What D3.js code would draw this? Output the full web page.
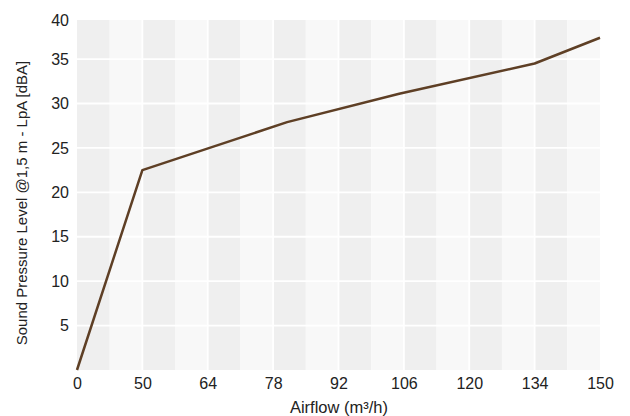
<!DOCTYPE html>
<html><head><meta charset="utf-8">
<script src="https://cdn.jsdelivr.net/npm/d3@7"></script>
<style>body{margin:0;background:#fff}svg{display:block}text{font-family:"Liberation Sans",Arial,sans-serif;fill:#222}</style>
</head><body><svg id="c" width="630" height="416"></svg>
<script>
const xTicks = [0, 50, 64, 78, 92, 106, 120, 134, 150];
const xTickLabels = ["0", "50", "64", "78", "92", "106", "120", "134", "150"];
const yTicks = [5, 10, 15, 20, 25, 30, 35, 39.4];
const yTickLabels = ["5", "10", "15", "20", "25", "30", "35", "40"];
const airflow = [0, 50, 81, 105, 134, 150];
const spl = [0, 22.5, 27.9, 31.1, 34.5, 37.4];
const yMax = 39.4;

const W = 630, H = 416;
const m = {left: 77, right: 30, top: 20, bottom: 46};
const svg = d3.select("#c");
const iw = W - m.left - m.right, ih = H - m.top - m.bottom;
const g = svg.append("g").attr("transform", `translate(${m.left},${m.top})`);

const idx = d3.scaleLinear().domain([0, xTicks.length - 1]).range([0, iw]);
const x = d3.scaleLinear().domain(xTicks).range(xTicks.map((d, i) => idx(i)));
const y = d3.scaleLinear().domain([0, yMax]).range([ih, 0]);

// striped background (half-interval columns)
const halves = d3.range((xTicks.length - 1) * 2);
g.selectAll("rect.band").data(halves).join("rect")
  .attr("x", i => idx(i / 2)).attr("width", idx(0.5) - idx(0))
  .attr("y", 0).attr("height", ih)
  .attr("fill", i => i % 2 === 0 ? "#efefef" : "#f8f8f8");

// grid
g.selectAll("line.hg").data(yTicks.slice(0, -1)).join("line")
  .attr("x1", 0).attr("x2", iw).attr("y1", d => y(d)).attr("y2", d => y(d))
  .attr("stroke", "#fff").attr("stroke-width", 1.8);
g.selectAll("line.vg").data(xTicks.slice(1, -1)).join("line")
  .attr("y1", 0).attr("y2", ih).attr("x1", d => x(d)).attr("x2", d => x(d))
  .attr("stroke", "#fff").attr("stroke-width", 1.8);

// axes
const xa = g.append("g").attr("transform", `translate(0,${ih})`)
  .call(d3.axisBottom(x).tickValues(xTicks).tickFormat((d, i) => xTickLabels[i]).tickSize(0).tickPadding(8));
const ya = g.append("g")
  .call(d3.axisLeft(y).tickValues(yTicks).tickFormat((d, i) => yTickLabels[i]).tickSize(0).tickPadding(8));
[xa, ya].forEach(a => { a.select(".domain").remove(); a.selectAll("text").style("font-size", "16px").attr("fill", "#222").style("font-family", "Liberation Sans, Arial, sans-serif"); });

// line
g.append("path").datum(airflow.map((a, i) => [a, spl[i]]))
  .attr("fill", "none").attr("stroke", "#5e3f25").attr("stroke-width", 2.5)
  .attr("stroke-linejoin", "round")
  .attr("d", d3.line().x(d => x(d[0])).y(d => y(d[1])));

// titles
svg.append("text").attr("x", 339).attr("y", 413)
  .attr("text-anchor", "middle").style("font-size", "16.5px").text("Airflow (m³/h)");
svg.append("text").attr("transform", `translate(27,${m.top + ih / 2 + 8}) rotate(-90)`)
  .attr("text-anchor", "middle").style("font-size", "15px").text("Sound Pressure Level @1,5 m - LpA [dBA]");
</script></body></html>
